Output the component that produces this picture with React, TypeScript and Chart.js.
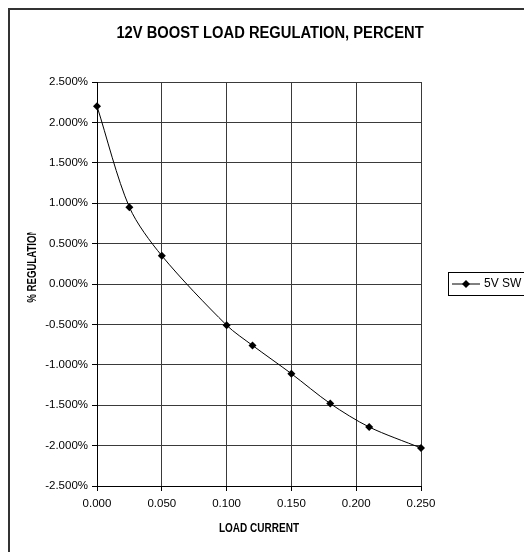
import React, { useEffect, useRef } from "react";
import { Chart, registerables } from "chart.js";

Chart.register(...registerables);

const title = "12V BOOST LOAD REGULATION, PERCENT";
const xTitle = "LOAD CURRENT";
const yTitle = "% REGULATION";
const seriesName = "5V SW";
const loadCurrent = [0.0, 0.025, 0.05, 0.1, 0.12, 0.15, 0.18, 0.21, 0.25];
const regulationPct = [2.2, 0.95, 0.35, -0.51, -0.76, -1.11, -1.48, -1.77, -2.03];
const yMin = -2.5;
const yMax = 2.5;
const yStep = 0.5;
const xMin = 0;
const xMax = 0.25;
const xStep = 0.05;

const FONT = "'Liberation Sans', Arial, sans-serif";

function condensedText(ctx: any, text: string, x: number, y: number, sx: number, rot: number) {
  ctx.save();
  ctx.translate(x, y);
  ctx.rotate(rot);
  ctx.scale(sx, 1);
  ctx.fillText(text, 0, 0);
  ctx.restore();
}

const decorPlugin = {
  id: "decor",
  beforeDraw(chart: any) {
    const ctx = chart.ctx;
    ctx.save();
    ctx.fillStyle = "#ffffff";
    ctx.fillRect(0, 0, chart.width, chart.height);
    ctx.strokeStyle = "#333333";
    ctx.lineWidth = 2;
    ctx.strokeRect(9, 9, chart.width + 20, chart.height + 20);
    ctx.restore();
  },
  afterDraw(chart: any) {
    const ctx = chart.ctx;
    const area = chart.chartArea;
    ctx.save();
    ctx.fillStyle = "#000000";
    ctx.textAlign = "center";
    ctx.textBaseline = "middle";
    // title
    ctx.font = `bold 16px ${FONT}`;
    condensedText(ctx, title, 270, 34, 0.92, 0);
    // x title
    ctx.font = `bold 13px ${FONT}`;
    condensedText(ctx, xTitle, (area.left + area.right) / 2, 528, 0.77, 0);
    // y title (clipped like the reference)
    ctx.save();
    ctx.beginPath();
    ctx.rect(0, 232.5, 90, 300);
    ctx.clip();
    condensedText(ctx, yTitle, 32, 265.6, 0.74, -Math.PI / 2);
    ctx.restore();
    // legend
    const lx = 448, ly = 272, lh = 23;
    ctx.fillStyle = "#ffffff";
    ctx.fillRect(lx, ly, 100, lh);
    ctx.strokeStyle = "#000000";
    ctx.lineWidth = 1;
    ctx.strokeRect(lx + 0.5, ly + 0.5, 100, lh);
    const cy = ly + lh / 2 + 0.5;
    ctx.beginPath();
    ctx.moveTo(452, cy);
    ctx.lineTo(480, cy);
    ctx.stroke();
    ctx.fillStyle = "#000000";
    ctx.beginPath();
    ctx.moveTo(466, cy - 4);
    ctx.lineTo(470, cy);
    ctx.lineTo(466, cy + 4);
    ctx.lineTo(462, cy);
    ctx.closePath();
    ctx.fill();
    ctx.font = `12px ${FONT}`;
    ctx.textAlign = "left";
    ctx.fillText(seriesName, 484, cy);
    ctx.restore();
  },
};

export default function App() {
  const ref = useRef<HTMLCanvasElement>(null);
  useEffect(() => {
    if (!ref.current) return;
    const chart = new Chart(ref.current, {
      type: "line",
      data: {
        datasets: [
          {
            label: seriesName,
            data: loadCurrent.map((x, i) => ({ x, y: regulationPct[i] })),
            borderColor: "#000000",
            backgroundColor: "#000000",
            borderWidth: 1,
            tension: 0.3,
            pointStyle: "rectRot",
            pointRadius: 4,
            pointBorderWidth: 0,
            fill: false,
            clip: false,
          },
        ],
      },
      plugins: [decorPlugin],
      options: {
        animation: false,
        responsive: false,
        devicePixelRatio: 1,
        layout: { padding: { top: 82, left: 0, right: 103, bottom: 0 } },
        plugins: {
          legend: { display: false },
          title: { display: false },
          tooltip: { enabled: false },
        },
        scales: {
          x: {
            type: "linear",
            min: xMin,
            max: xMax,
            afterFit(scale: any) {
              scale.height = 66;
            },
            ticks: {
              stepSize: xStep,
              padding: 6,
              color: "#000000",
              font: { family: FONT, size: 11.5 },
              callback: (v: any) => Number(v).toFixed(3),
              maxRotation: 0,
            },
            grid: {
              color: "#3a3a3a",
              lineWidth: 1,
              tickLength: 5,
              tickColor: "#000000",
            },
            border: { color: "#000000", width: 1 },
          },
          y: {
            type: "linear",
            min: yMin,
            max: yMax,
            afterFit(scale: any) {
              scale.width = 97;
            },
            ticks: {
              stepSize: yStep,
              padding: 4,
              color: "#000000",
              font: { family: FONT, size: 11.5 },
              callback: (v: any) => Number(v).toFixed(3) + "%",
            },
            grid: {
              color: "#3a3a3a",
              lineWidth: 1,
              tickLength: 5,
              tickColor: "#000000",
            },
            border: { color: "#000000", width: 1 },
          },
        },
      },
    });
    return () => chart.destroy();
  }, []);
  return (
    <canvas
      ref={ref}
      width={524}
      height={552}
      style={{ position: "fixed", left: 0, top: 0, width: 524, height: 552 }}
    />
  );
}
